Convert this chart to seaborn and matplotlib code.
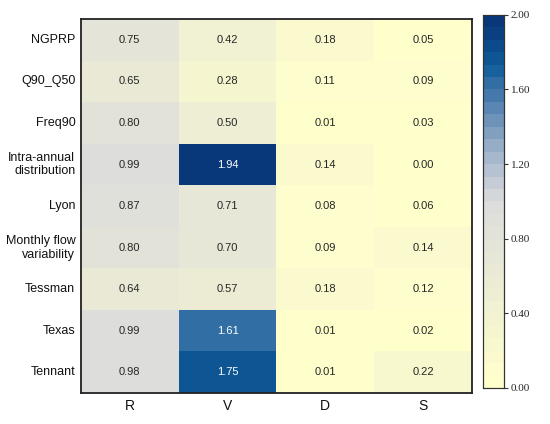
import matplotlib
matplotlib.use("Agg")
import matplotlib.pyplot as plt
import seaborn as sns
import pandas as pd
import numpy as np
from matplotlib.colors import LinearSegmentedColormap, ListedColormap

metrics = ["NGPRP", "Q90_Q50", "Freq90", "Intra-annual\ndistribution", "Lyon",
           "Monthly flow\nvariability", "Tessman", "Texas", "Tennant"]
components = ["R", "V", "D", "S"]

r_vals = [0.75, 0.65, 0.80, 0.99, 0.87, 0.80, 0.64, 0.99, 0.98]
v_vals = [0.42, 0.28, 0.50, 1.94, 0.71, 0.70, 0.57, 1.61, 1.75]
d_vals = [0.18, 0.11, 0.01, 0.14, 0.08, 0.09, 0.18, 0.01, 0.01]
s_vals = [0.05, 0.09, 0.03, 0.00, 0.06, 0.14, 0.12, 0.02, 0.22]

df = pd.DataFrame({"R": r_vals, "V": v_vals, "D": d_vals, "S": s_vals}, index=metrics)

sns.set_theme(style="white")
plt.rcParams["font.family"] = ["Liberation Sans", "DejaVu Sans"]

# yellow -> grey -> blue, cut into 30 steps
base = LinearSegmentedColormap.from_list("ygb", [
    (0.0, "#FFFFCC"),
    (0.5, "#DCDCDC"),
    (0.55, "#C6CDD6"),
    (0.65, "#98AFC8"),
    (0.8, "#4378AA"),
    (0.875, "#0E5C99"),
    (1.0, "#08377A"),
])
cmap = ListedColormap(base(np.linspace(0, 1, 30)))

fig = plt.figure(figsize=(5.5, 4.24), dpi=100)
ax = fig.add_axes([0.147, 0.073, 0.711, 0.882])
cax = fig.add_axes([0.878, 0.085, 0.038, 0.88])

sns.heatmap(df, ax=ax, cbar_ax=cax, cmap=cmap, vmin=0, vmax=2,
            annot=True, fmt=".2f", annot_kws={"fontsize": 8})

ax.tick_params(axis="both", length=0, pad=4)
ax.set_yticklabels(ax.get_yticklabels(), rotation=0, fontsize=9, color="#111111")
for lab in ax.get_yticklabels():
    lab.set_multialignment("right")
ax.set_xticklabels(ax.get_xticklabels(), fontsize=10, color="#111111")
for sp in ax.spines.values():
    sp.set_visible(True)
    sp.set_color("#222222")
    sp.set_linewidth(1.3)

cax.set_yticks([0, 0.4, 0.8, 1.2, 1.6, 2.0])
cax.set_yticklabels(["0.00", "0.40", "0.80", "1.20", "1.60", "2.00"],
                    family=["Liberation Serif", "DejaVu Serif"], fontsize=8)
cax.tick_params(axis="y", length=3, width=0.8, color="#333333", pad=2)
for sp in cax.spines.values():
    sp.set_visible(True)
    sp.set_color("#333333")
    sp.set_linewidth(0.8)

fig.savefig("out.png", dpi=100)
